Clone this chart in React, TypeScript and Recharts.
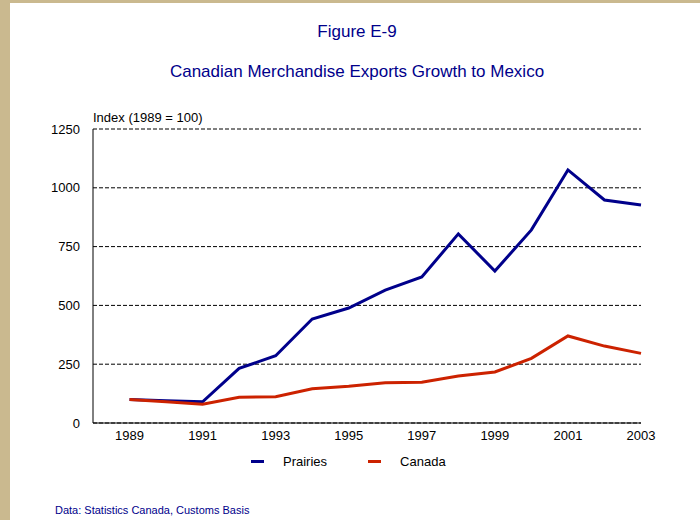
import React from "react";
import { LineChart, Line, XAxis, YAxis, CartesianGrid, Legend } from "recharts";

const years = [1989, 1990, 1991, 1992, 1993, 1994, 1995, 1996, 1997, 1998, 1999, 2000, 2001, 2002, 2003];
const prairies = [100, 95, 90, 232, 286, 442, 489, 565, 621, 804, 646, 821, 1076, 948, 927];
const canada = [100, 90, 80, 109, 112, 146, 156, 171, 173, 200, 217, 275, 370, 327, 296];
const seriesOrder = ["Prairies", "Canada"];
const xTicks = [1989, 1991, 1993, 1995, 1997, 1999, 2001, 2003];
const yTicks = [0, 250, 500, 750, 1000, 1250];

const data = years.map((y, i) => ({ year: y, Prairies: prairies[i], Canada: canada[i] }));

const FONT = "'Liberation Sans', Arial, sans-serif";
const BLUE = "#00008b";
const RED = "#cc2200";

const LegendContent = (props: any) => {
  const items = [...(props.payload || [])].sort(
    (a: any, b: any) => seriesOrder.indexOf(a.value) - seriesOrder.indexOf(b.value)
  );
  return (
    <div style={{ display: "flex", fontFamily: FONT, fontSize: 13, color: "#000" }}>
      {items.map((it: any, i: number) => (
        <div key={i} style={{ display: "flex", alignItems: "center", marginRight: i === 0 ? 41 : 0 }}>
          <div style={{ width: 13, height: 3, background: it.color, marginRight: 19 }} />
          <span>{it.value}</span>
        </div>
      ))}
    </div>
  );
};

export default function App() {
  return (
    <div
      style={{
        position: "absolute",
        left: 0,
        top: 0,
        width: 700,
        height: 520,
        background: "#ffffff",
        overflow: "hidden",
        fontFamily: FONT,
      }}
    >
      <div style={{ position: "absolute", left: 0, top: 0, width: 10, height: 520, background: "#cab98f" }} />
      <div style={{ position: "absolute", left: 0, top: 0, width: 700, height: 3, background: "#cab98f" }} />
      <div style={{ position: "absolute", left: 10, width: 694, top: 22, textAlign: "center", fontSize: 17, color: BLUE }}>
        Figure E-9
      </div>
      <div style={{ position: "absolute", left: 10, width: 694, top: 62, textAlign: "center", fontSize: 17, color: BLUE }}>
        Canadian Merchandise Exports Growth to Mexico
      </div>
      <div style={{ position: "absolute", left: 93, top: 110, fontSize: 13, color: "#000" }}>Index (1989 = 100)</div>
      <div style={{ position: "absolute", left: 55, top: 504, fontSize: 11, color: BLUE }}>
        Data: Statistics Canada, Customs Basis
      </div>
      <div style={{ position: "absolute", left: 0, top: 0 }}>
        <LineChart width={700} height={520} data={data} margin={{ top: 129, right: 59, bottom: 52, left: 33 }}>
          <CartesianGrid horizontal={true} vertical={false} stroke="#000" strokeDasharray="4 2" />
          <XAxis
            dataKey="year"
            type="number"
            domain={[1988, 2003]}
            ticks={xTicks}
            tickLine={false}
            axisLine={{ stroke: "#000", strokeWidth: 1 }}
            tick={{ fill: "#000", fontSize: 13, fontFamily: FONT }}
            height={30}
            interval={0}
          />
          <YAxis
            type="number"
            domain={[0, 1250]}
            ticks={yTicks}
            tickLine={false}
            axisLine={{ stroke: "#000", strokeWidth: 1 }}
            tick={{ fill: "#000", fontSize: 13, fontFamily: FONT }}
            tickMargin={7}
            width={60}
            interval={0}
          />
          <Legend
            content={<LegendContent />}
            wrapperStyle={{ position: "absolute", left: 251, top: 454, width: 300 }}
          />
          <Line type="linear" dataKey="Prairies" stroke={BLUE} strokeWidth={3} dot={false} isAnimationActive={false} />
          <Line type="linear" dataKey="Canada" stroke={RED} strokeWidth={3} dot={false} isAnimationActive={false} />
        </LineChart>
      </div>
    </div>
  );
}
